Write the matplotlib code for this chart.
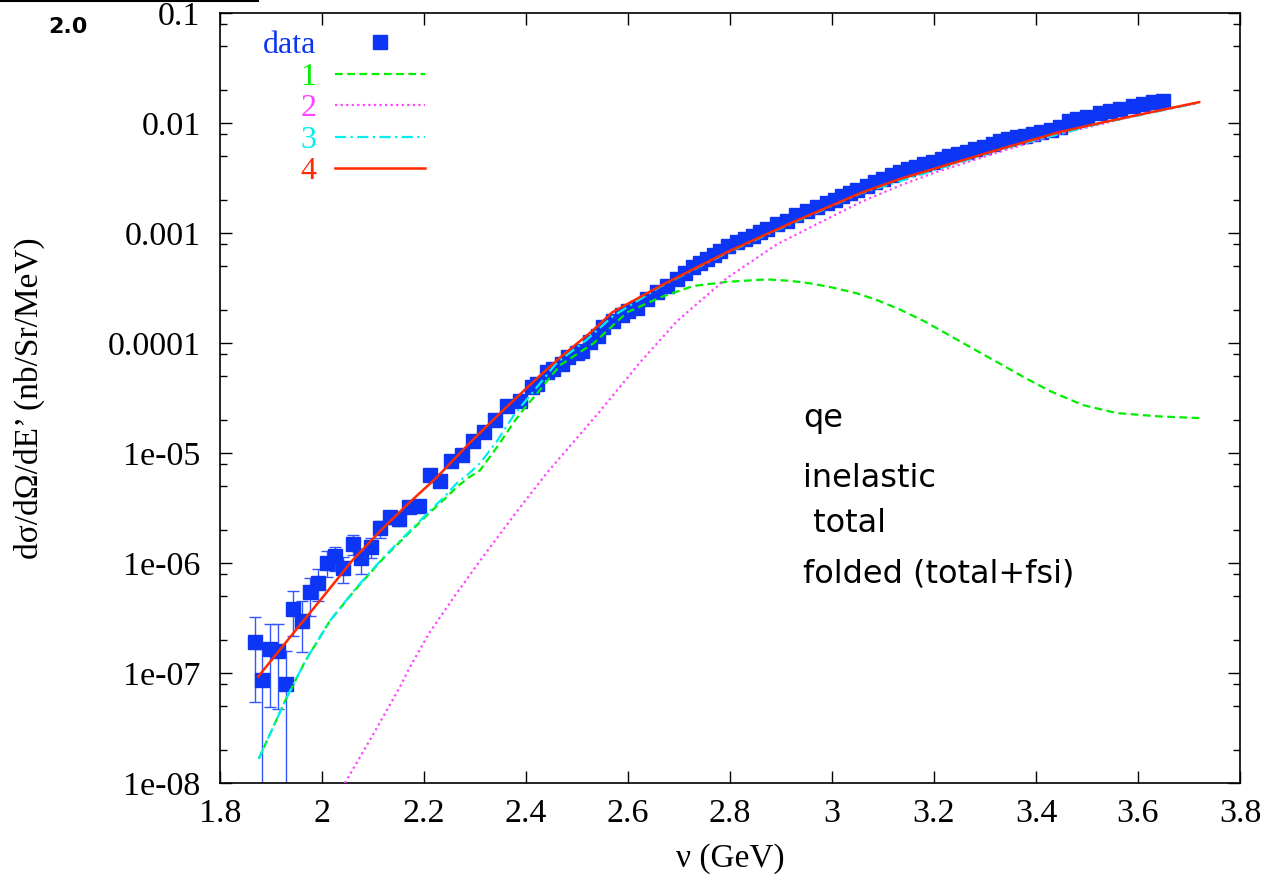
import numpy as np
import matplotlib
matplotlib.use("Agg")
import matplotlib.pyplot as plt
from matplotlib.lines import Line2D
from matplotlib.ticker import LogLocator, NullFormatter, FixedLocator

# measured cross section (nu in GeV, dsigma in nb/Sr/MeV)
nu_data = [1.869, 1.882, 1.898, 1.914, 1.929, 1.944, 1.960, 1.976, 1.992, 2.009,
           2.025, 2.041, 2.060, 2.076, 2.096, 2.114, 2.133, 2.151, 2.171, 2.190,
           2.212, 2.231, 2.253, 2.274, 2.296, 2.318, 2.339, 2.363, 2.388, 2.411,
           2.421, 2.441, 2.452, 2.470, 2.482, 2.500, 2.510, 2.525, 2.541, 2.551,
           2.571, 2.588, 2.600, 2.617, 2.637, 2.657, 2.676, 2.696, 2.712, 2.728,
           2.742, 2.755, 2.768, 2.780, 2.797, 2.814, 2.830, 2.845, 2.858, 2.872,
           2.892, 2.912, 2.930, 2.951, 2.970, 2.990, 3.005, 3.020, 3.035, 3.050,
           3.068, 3.085, 3.100, 3.117, 3.133, 3.150, 3.165, 3.180, 3.198, 3.215,
           3.230, 3.248, 3.265, 3.280, 3.298, 3.315, 3.330, 3.346, 3.362, 3.378,
           3.394, 3.410, 3.430, 3.447, 3.465, 3.480, 3.500, 3.525, 3.545, 3.565,
           3.590, 3.610, 3.630, 3.649]
xs_data = [1.9e-7, 8.6e-8, 1.65e-7, 1.6e-7, 7.9e-8, 3.8e-7, 3.0e-7, 5.4e-7, 6.6e-7, 1.0e-6,
           1.15e-6, 9.1e-7, 1.5e-6, 1.1e-6, 1.4e-6, 2.1e-6, 2.6e-6, 2.5e-6, 3.2e-6, 3.3e-6,
           6.3e-6, 5.6e-6, 8.4e-6, 9.5e-6, 1.28e-5, 1.55e-5, 2.0e-5, 2.7e-5, 3.0e-5, 4.0e-5,
           4.2e-5, 5.5e-5, 5.8e-5, 6.5e-5, 7.5e-5, 8.2e-5, 8.5e-5, 1.03e-4, 1.15e-4, 1.4e-4,
           1.6e-4, 1.8e-4, 1.95e-4, 2.1e-4, 2.5e-4, 2.9e-4, 3.3e-4, 3.8e-4, 4.3e-4, 4.9e-4,
           5.3e-4, 5.8e-4, 6.3e-4, 6.9e-4, 7.6e-4, 8.3e-4, 8.9e-4, 9.4e-4, 1.02e-3, 1.09e-3,
           1.2e-3, 1.3e-3, 1.45e-3, 1.6e-3, 1.73e-3, 1.87e-3, 2.0e-3, 2.15e-3, 2.3e-3, 2.45e-3,
           2.7e-3, 2.9e-3, 3.1e-3, 3.35e-3, 3.6e-3, 3.8e-3, 4.0e-3, 4.2e-3, 4.4e-3, 4.7e-3,
           5.0e-3, 5.2e-3, 5.5e-3, 5.8e-3, 6.1e-3, 6.4e-3, 6.8e-3, 7.1e-3, 7.4e-3, 7.7e-3,
           8.0e-3, 8.3e-3, 8.7e-3, 9.2e-3, 1.04e-2, 1.08e-2, 1.14e-2, 1.23e-2, 1.29e-2, 1.35e-2,
           1.44e-2, 1.5e-2, 1.55e-2, 1.59e-2]
# error bar ends for the low-nu points (0 = bar runs off the axis)
err_lo = [5.5e-8, 0.0, 4.9e-8, 4.7e-8, 0.0, 2.15e-7, 1.54e-7, 3.3e-7, 4.5e-7, 7.5e-7,
          8.5e-7, 6.6e-7, 1.18e-6, 8.0e-7, 1.1e-6, 1.7e-6, 2.25e-6, 2.15e-6, 2.9e-6, 3.0e-6]
err_hi = [3.2e-7, 1.66e-7, 2.8e-7, 2.8e-7, 1.58e-7, 5.6e-7, 4.5e-7, 7.3e-7, 8.9e-7, 1.29e-6,
          1.4e-6, 1.14e-6, 1.78e-6, 1.35e-6, 1.7e-6, 2.4e-6, 2.95e-6, 2.85e-6, 3.5e-6, 3.6e-6]

# model 1 (qe)
nu_1 = [1.876, 1.927, 1.967, 2.016, 2.065, 2.120, 2.212, 2.240, 2.264, 2.288, 2.310,
        2.343, 2.375, 2.394, 2.414, 2.467, 2.533, 2.598, 2.663, 2.728, 2.794, 2.872,
        2.917, 2.957, 3.000, 3.049, 3.090, 3.133, 3.182, 3.231, 3.280, 3.329, 3.375,
        3.427, 3.492, 3.558, 3.643, 3.720]
xs_1 = [1.66e-8, 5.5e-8, 1.28e-7, 3.0e-7, 5.7e-7, 1.1e-6, 2.9e-6, 3.8e-6, 4.9e-6, 6.0e-6, 6.97e-6,
        1.13e-5, 1.87e-5, 2.46e-5, 3.16e-5, 6.3e-5, 1.0e-4, 1.9e-4, 2.6e-4, 3.3e-4, 3.6e-4, 3.79e-4,
        3.68e-4, 3.49e-4, 3.2e-4, 2.83e-4, 2.44e-4, 2.02e-4, 1.57e-4, 1.17e-4, 8.7e-5, 6.5e-5, 4.93e-5,
        3.67e-5, 2.73e-5, 2.31e-5, 2.15e-5, 2.08e-5]
# model 2 (inelastic)
nu_2 = [2.045, 2.100, 2.153, 2.170, 2.210, 2.260, 2.310, 2.376, 2.441, 2.545, 2.624,
        2.696, 2.794, 2.892, 2.990, 3.055, 3.133, 3.198, 3.330, 3.447, 3.525, 3.620, 3.720]
xs_2 = [1.0e-8, 2.75e-8, 7.5e-8, 1.08e-7, 2.3e-7, 5.0e-7, 1.05e-6, 2.7e-6, 6.6e-6, 2.4e-5, 6.7e-5,
        1.58e-4, 3.9e-4, 7.9e-4, 1.34e-3, 1.9e-3, 2.7e-3, 3.5e-3, 5.5e-3, 8.0e-3, 9.7e-3, 1.25e-2,
        1.52e-2]
# model 3 (total)
nu_3 = [1.876, 1.927, 1.967, 2.016, 2.065, 2.120, 2.212, 2.240, 2.264, 2.288, 2.310,
        2.343, 2.375, 2.394, 2.414, 2.460, 2.519, 2.570, 2.663, 2.794, 2.924, 3.055,
        3.330, 3.525, 3.720]
xs_3 = [1.66e-8, 5.5e-8, 1.28e-7, 3.0e-7, 5.8e-7, 1.12e-6, 3.0e-6, 4.0e-6, 5.3e-6, 6.5e-6, 8.1e-6,
        1.28e-5, 2.17e-5, 2.79e-5, 3.6e-5, 6.6e-5, 1.07e-4, 1.75e-4, 3.25e-4, 6.6e-4, 1.24e-3, 2.28e-3,
        5.75e-3, 9.9e-3, 1.53e-2]
# model 4 (folded total+fsi)
nu_4 = [1.875, 1.950, 2.000, 2.059, 2.114, 2.170, 2.225, 2.290, 2.349, 2.420, 2.467,
        2.531, 2.569, 2.663, 2.794, 2.924, 3.055, 3.133, 3.330, 3.447, 3.525, 3.720]
xs_4 = [9.3e-8, 2.5e-7, 4.8e-7, 1.05e-6, 1.95e-6, 3.5e-6, 6.0e-6, 1.24e-5, 2.3e-5, 4.7e-5, 7.4e-5,
        1.3e-4, 1.9e-4, 3.3e-4, 6.7e-4, 1.26e-3, 2.3e-3, 3.1e-3, 5.8e-3, 8.3e-3, 1.0e-2, 1.55e-2]

x_ticks = [1.8, 2.0, 2.2, 2.4, 2.6, 2.8, 3.0, 3.2, 3.4, 3.6, 3.8]
x_labels = ['1.8', '2', '2.2', '2.4', '2.6', '2.8', '3', '3.2', '3.4', '3.6', '3.8']
y_ticks = [1e-8, 1e-7, 1e-6, 1e-5, 1e-4, 1e-3, 1e-2, 1e-1]
y_labels = ['1e-08', '1e-07', '1e-06', '1e-05', '0.0001', '0.001', '0.01', '0.1']
notes = ['qe', 'inelastic', ' total', 'folded (total+fsi)']

serif = 'Liberation Serif'
blue = '#0c35f5'

fig = plt.figure(figsize=(12.68, 8.81), dpi=100)
ax = fig.add_axes([0.1735, 0.1112, 0.8044, 0.874])

n_err = len(err_lo)
y_err = np.array(xs_data[:n_err])
ax.errorbar(nu_data[:n_err], y_err,
            yerr=[y_err - np.array(err_lo), np.array(err_hi) - y_err],
            fmt='none', ecolor='#3355ff', elinewidth=1.0, capsize=4, capthick=1.0, zorder=2)
ax.plot(nu_data, xs_data, ls='none', marker='s', ms=9.5, color=blue, label='data', zorder=3)

ax.plot(nu_1, xs_1, color='#00ee00', ls=(0, (3.5, 2)), lw=1.6, label='1', zorder=4)
ax.plot(nu_2, xs_2, color='#ff44ff', ls=(0, (1, 1.5)), lw=1.6, label='2', zorder=4)
ax.plot(nu_3, xs_3, color='#00eeee', ls=(0, (5, 2, 1, 2)), lw=1.6, label='3', zorder=4)
ax.plot(nu_4, xs_4, color='#ff2a00', ls='-', lw=1.8, label='4', zorder=5)

ax.set_yscale('log')
ax.set_xlim(1.8, 3.8)
ax.set_ylim(1e-8, 0.1)
ax.xaxis.set_major_locator(FixedLocator(x_ticks))
ax.set_xticklabels(x_labels, fontfamily=serif, fontsize=24.5)
ax.yaxis.set_major_locator(FixedLocator(y_ticks))
ax.set_yticklabels(y_labels, fontfamily=serif, fontsize=24.5)
ax.yaxis.set_minor_locator(LogLocator(base=10, subs=(2, 5, 8), numticks=20))
ax.yaxis.set_minor_formatter(NullFormatter())
ax.tick_params(which='major', direction='in', top=True, right=True, length=8.5, width=1.0)
ax.tick_params(axis='y', which='major', pad=14)
ax.tick_params(axis='x', which='major', pad=11)
ax.tick_params(which='minor', direction='in', right=True, length=5, width=1.0)
for s in ax.spines.values():
    s.set_linewidth(1.2)

ax.set_xlabel('ν (GeV)', fontfamily=serif, fontsize=24)
ax.xaxis.set_label_coords(0.5, (783 - 843) / 770)
ax.set_ylabel('dσ/dΩ/dE’ (nb/Sr/MeV)', fontfamily=serif, fontsize=24)
ax.yaxis.set_label_coords((45 - 220) / 1020, 0.5)

leg = ax.legend(loc='upper left', bbox_to_anchor=(0.042, 0.977), frameon=False,
                markerfirst=False, handlelength=2.8, handletextpad=0.6,
                labelspacing=0.07, borderpad=0, borderaxespad=0,
                prop={'family': serif, 'size': 23})
for txt, c in zip(leg.get_texts(), [blue, '#00ee00', '#ff44ff', '#00eeee', '#ff2a00']):
    txt.set_color(c)

note_y = [0.462, 0.384, 0.326, 0.261]
for t, yy in zip(notes, note_y):
    ax.text(0.5716, yy, t, transform=ax.transAxes, fontsize=23,
            fontfamily='DejaVu Sans', va='baseline', ha='left')

fig.text(68 / 1268, 1 - 27 / 881, '2.0', ha='center', va='center',
         fontsize=16, fontweight='bold', fontfamily='DejaVu Sans')
fig.add_artist(Line2D([0, 258 / 1268], [0.999, 0.999], transform=fig.transFigure,
                      color='black', lw=1.5))

fig.savefig('out.png', dpi=100)
